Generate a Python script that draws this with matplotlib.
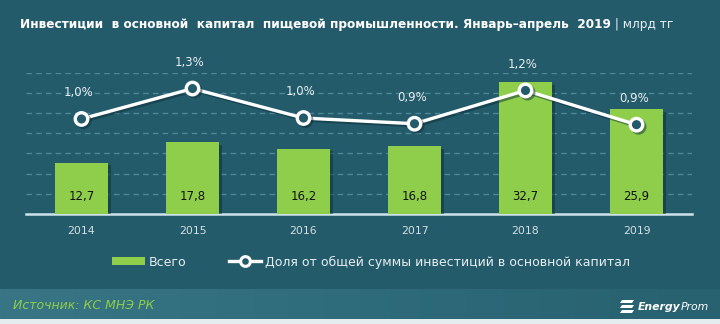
import matplotlib
matplotlib.use('Agg')
import matplotlib.pyplot as plt
import matplotlib.patheffects as pe
from matplotlib.patches import Rectangle, Polygon
from matplotlib.lines import Line2D
import numpy as np

years = ['2014', '2015', '2016', '2017', '2018', '2019']
total = [12.7, 17.8, 16.2, 16.8, 32.7, 25.9]
total_labels = ['12,7', '17,8', '16,2', '16,8', '32,7', '25,9']
share = [1.00, 1.32, 1.01, 0.95, 1.30, 0.94]
share_labels = ['1,0%', '1,3%', '1,0%', '0,9%', '1,2%', '0,9%']

bg = '#245b6b'
green = '#8fce4a'
plt.rcParams['font.family'] = ['DejaVu Sans']

fig = plt.figure(figsize=(7.2, 3.24), dpi=100, facecolor=bg)

# footer band with gradient
fax = fig.add_axes([0, 5 / 324, 1, 30 / 324])
grad = np.linspace(0, 1, 256).reshape(1, -1)
cmap = matplotlib.colors.LinearSegmentedColormap.from_list('f', ['#387686', '#2e6b7b', '#28616f'])
fax.imshow(grad, aspect='auto', cmap=cmap, extent=[0, 1, 0, 1])
fax.set_axis_off()
fig.patches.append(Rectangle((0, 0), 1, 5 / 324, transform=fig.transFigure,
                             facecolor='#e4ecef', edgecolor='none'))

ax = fig.add_axes([26 / 720, 110 / 324, 666 / 720, 141.4 / 324])
ax.set_facecolor('none')
x = np.arange(len(years))
bars = ax.bar(x, total, width=0.48, color=green, zorder=3,
              path_effects=[pe.SimplePatchShadow(offset=(2, -2), shadow_rgbFace='#0d2f38', alpha=0.5),
                            pe.Normal()])
ax.set_xlim(-0.5, len(years) - 0.5)
ax.set_ylim(0, 35)
ax.set_yticks(np.arange(5, 40, 5))
ax.yaxis.grid(True, color='#4d8898', linestyle=(0, (4, 3)), linewidth=1)
ax.set_axisbelow(True)
for s in ['top', 'right', 'left']:
    ax.spines[s].set_visible(False)
ax.spines['bottom'].set_color('#cfe3ea')
ax.spines['bottom'].set_linewidth(1.8)
ax.tick_params(axis='x', length=0, pad=9, labelsize=7.8, labelcolor='#d3dfe3')
ax.set_xticks(x)
ax.set_xticklabels(years)

for i, lab in enumerate(total_labels):
    ax.annotate(lab, xy=(x[i], 0), xytext=(0, 12.5), textcoords='offset points',
                ha='center', va='center', fontsize=8.5, color='#121212', zorder=5)

ax2 = ax.twinx()
ax2.set_ylim(0, 1.488)
ax2.set_axis_off()
ax.tick_params(axis='y', which='both', left=False, right=False, labelleft=False)
ax2.plot(x, share, color='white', linewidth=2.4, marker='o', markersize=9,
         markerfacecolor=bg, markeredgecolor='white', markeredgewidth=2.4, zorder=4,
         path_effects=[pe.SimpleLineShadow(offset=(1.5, -1.5), shadow_color='#0d2f38', alpha=0.5),
                       pe.Normal()])
for i, lab in enumerate(share_labels):
    ax2.annotate(lab, xy=(x[i], share[i]), xytext=(-2, 19), textcoords='offset points',
                 ha='center', va='center', fontsize=8.5, color='#e6eef1', annotation_clip=False)

# title
t1 = fig.text(20 / 720, 1 - 24.7 / 324,
              'Инвестиции  в основной  капитал  пищевой промышленности. Январь–апрель  2019',
              fontsize=8.7, fontweight='bold', color='white', va='center', ha='left')
ax.annotate(' | млрд тг', xy=(1, 0.5), xycoords=t1, xytext=(0, 0), textcoords='offset points',
            fontsize=8.7, color='#e6eef1', va='center', ha='left', annotation_clip=False)

# legend
h1 = Rectangle((0, 0), 1, 1, facecolor=green, edgecolor='none')
h2 = Line2D([], [], color='white', linewidth=2.4, marker='o', markersize=7,
            markerfacecolor=bg, markeredgecolor='white', markeredgewidth=2.2)
leg = fig.legend([h1, h2], ['Всего', 'Доля от общей суммы инвестиций в основной капитал'],
                 loc='center', bbox_to_anchor=(371 / 720, 1 - 262 / 324), ncol=2, frameon=False,
                 fontsize=9, labelcolor='#e6eef1', handlelength=2.6, handleheight=0.55,
                 handletextpad=0.3, columnspacing=3.4, numpoints=1)

# footer texts
fig.text(13 / 720, 1 - 305.5 / 324, 'Источник: КС МНЭ РК', fontsize=9, fontstyle='italic',
         color='#8fce4a', va='center', ha='left')
lt = fig.text(638 / 720, 1 - 307 / 324, 'Energy', fontsize=7.8, fontstyle='italic',
              fontweight='bold', color='white', va='center', ha='left')
ax.annotate('Prom', xy=(1, 0.5), xycoords=lt, xytext=(0, 0), textcoords='offset points',
            fontsize=7.8, fontstyle='italic', color='white', va='center', ha='left',
            annotation_clip=False)
# logo icon: three slanted bars
for k in range(3):
    y0 = 1 - (300 + k * 5) / 324
    pts = [(620 / 720, y0 - 3 / 324), (632 / 720, y0 - 3 / 324),
           (634 / 720, y0), (622 / 720, y0)]
    fig.patches.append(Polygon(pts, closed=True, transform=fig.transFigure,
                               facecolor='white', edgecolor='none'))

fig.savefig('out.png', dpi=100, facecolor=bg)
